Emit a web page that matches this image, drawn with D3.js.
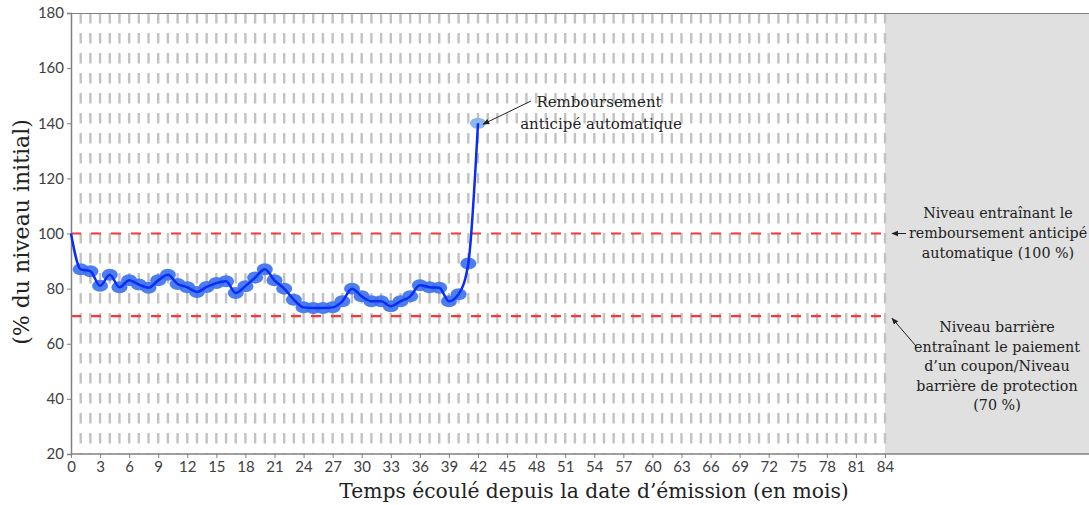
<!DOCTYPE html>
<html>
<head>
<meta charset="utf-8">
<script src="https://cdn.jsdelivr.net/npm/d3@7"></script>
<style>
  body { margin: 0; background: #fff; }
  svg { display: block; }
  .tick text { font-family: Lato, "Open Sans", sans-serif; font-size: 15px; fill: #404040; }
  .serif { font-family: "DejaVu Serif", "Liberation Serif", serif; fill: #222; }
</style>
</head>
<body>
<svg></svg>
<script>
// months since issue and underlying level (% of initial level)
var months = [0,1,2,3,4,5,6,7,8,9,10,11,12,13,14,15,16,17,18,19,20,
              21,22,23,24,25,26,27,28,29,30,31,32,33,34,35,36,37,38,39,40,41,42];
var levels = [100,87,86.3,81,85,80.5,83,81.5,80.3,83,85,81.7,80.5,78.8,80.6,82,82.7,78.4,80.9,84,87,
              83,80,76,73.2,73,73,73.2,75.4,80,77.2,75.4,75.4,73.6,75.4,77.2,81.2,80.5,80.3,75.4,78,89.1,140];
var barriers = [100, 70];
var xTicks = d3.range(0, 85, 3);
var yTicks = [20, 40, 60, 80, 100, 120, 140, 160, 180];

window.onload = function(){
    var W = 1089, H = 505;
    var svg = d3.select("svg").attr("width", W).attr("height", H);

    var left = 71, right = 885, top = 13, bottom = 454;
    var x = d3.scaleLinear().domain([0, 84]).range([left, right]);
    var y = d3.scaleLinear().domain([20, 180]).range([bottom, top]);

    // grey zone after the last observation date
    svg.append("rect")
        .attr("x", right).attr("y", top)
        .attr("width", W - right).attr("height", bottom - top)
        .attr("fill", "#e0e0e0");

    // monthly vertical dashed grid
    svg.selectAll(".vgrid")
        .data(d3.range(1, 85)).enter()
        .append("line")
        .attr("class", "vgrid")
        .attr("x1", function(d){ return x(d); })
        .attr("x2", function(d){ return x(d); })
        .attr("y1", top).attr("y2", bottom)
        .attr("stroke", "#c2c2c2")
        .attr("stroke-width", 2.4)
        .attr("stroke-dasharray", "10.5 9.5");

    // barrier levels
    svg.selectAll(".barrier")
        .data(barriers).enter()
        .append("line")
        .attr("class", "barrier")
        .attr("x1", x(0)).attr("x2", x(84))
        .attr("y1", function(d){ return y(d); })
        .attr("y2", function(d){ return y(d); })
        .attr("stroke", "#ff3535")
        .attr("stroke-width", 2.2)
        .attr("stroke-dasharray", "10 10");

    // top border
    svg.append("line")
        .attr("x1", left).attr("x2", W)
        .attr("y1", top + 0.5).attr("y2", top + 0.5)
        .attr("stroke", "#808080").attr("stroke-width", 1);

    // axes
    var xAxis = svg.append("g")
        .attr("transform", "translate(0," + bottom + ")")
        .call(d3.axisBottom(x).tickValues(xTicks).tickSize(4).tickPadding(3));
    xAxis.select(".domain").remove();
    xAxis.append("line")
        .attr("x1", left).attr("x2", W)
        .attr("stroke", "#808080").attr("stroke-width", 1.5);
    xAxis.selectAll(".tick line").attr("stroke", "#808080");

    var yAxis = svg.append("g")
        .attr("transform", "translate(" + left + ",0)")
        .call(d3.axisLeft(y).tickValues(yTicks).tickSize(4).tickPadding(3));
    yAxis.select(".domain").attr("stroke", "#808080").attr("stroke-width", 1.5);
    yAxis.selectAll(".tick line").attr("stroke", "#808080");

    // markers
    var pts = months.map(function(m, i){ return { m: m, v: levels[i] }; });
    svg.selectAll(".marker")
        .data(pts.slice(1)).enter()
        .append("ellipse")
        .attr("class", "marker")
        .attr("cx", function(d){ return x(d.m); })
        .attr("cy", function(d){ return y(d.v); })
        .attr("rx", 8)
        .attr("ry", function(d){ return d.m === 42 ? 5.5 : 6; })
        .attr("fill", function(d){ return d.m === 42 ? "#8db6f3" : "#3d72f0"; })
        .attr("opacity", function(d){ return d.m === 42 ? 1 : 0.92; });

    // underlying path
    var line = d3.line()
        .x(function(d){ return x(d.m); })
        .y(function(d){ return y(d.v); })
        .curve(d3.curveMonotoneX);
    svg.append("path")
        .datum(pts)
        .attr("d", line)
        .attr("fill", "none")
        .attr("stroke", "#0a2cf5")
        .attr("stroke-width", 2.5);

    // arrow marker
    svg.append("defs").append("marker")
        .attr("id", "arr")
        .attr("viewBox", "0 0 10 10")
        .attr("refX", 9).attr("refY", 5)
        .attr("markerWidth", 7).attr("markerHeight", 7)
        .attr("orient", "auto")
        .append("path").attr("d", "M0,1 L10,5 L0,9 Z").attr("fill", "#222");

    // autocall annotation
    svg.append("line")
        .attr("x1", 531).attr("y1", 101)
        .attr("x2", x(42) + 5).attr("y2", y(140) + 1)
        .attr("stroke", "#222").attr("stroke-width", 1)
        .attr("marker-end", "url(#arr)");
    var ann = svg.append("text").attr("class", "serif")
        .attr("text-anchor", "middle").attr("font-size", 15);
    ann.append("tspan").attr("x", 599).attr("y", 107).text("Remboursement");
    ann.append("tspan").attr("x", 601).attr("y", 129).text("anticipé automatique");

    // right-hand notes
    svg.append("line")
        .attr("x1", 906).attr("y1", y(100))
        .attr("x2", 892).attr("y2", y(100))
        .attr("stroke", "#222").attr("stroke-width", 1)
        .attr("marker-end", "url(#arr)");
    var n1 = svg.append("text").attr("class", "serif")
        .attr("text-anchor", "middle").attr("font-size", 14.3);
    ["Niveau entraînant le", "remboursement anticipé", "automatique (100 %)"].forEach(function(t, i){
        n1.append("tspan").attr("x", 998).attr("y", 218 + i * 20).text(t);
    });

    svg.append("line")
        .attr("x1", 916).attr("y1", 346)
        .attr("x2", 892).attr("y2", y(70) + 2)
        .attr("stroke", "#222").attr("stroke-width", 1)
        .attr("marker-end", "url(#arr)");
    var n2 = svg.append("text").attr("class", "serif")
        .attr("text-anchor", "middle").attr("font-size", 14.3);
    ["Niveau barrière", "entraînant le paiement", "d\u2019un coupon/Niveau", "barrière de protection", "(70 %)"].forEach(function(t, i){
        n2.append("tspan").attr("x", 997).attr("y", 332 + i * 19.5).text(t);
    });

    // axis titles
    svg.append("text").attr("class", "serif")
        .attr("x", 594).attr("y", 498)
        .attr("text-anchor", "middle").attr("font-size", 20.3)
        .text("Temps écoulé depuis la date d\u2019émission (en mois)");
    svg.append("text").attr("class", "serif")
        .attr("transform", "translate(29,232) rotate(-90)")
        .attr("text-anchor", "middle").attr("font-size", 22)
        .text("(% du niveau initial)");
};
</script>
</body>
</html>
